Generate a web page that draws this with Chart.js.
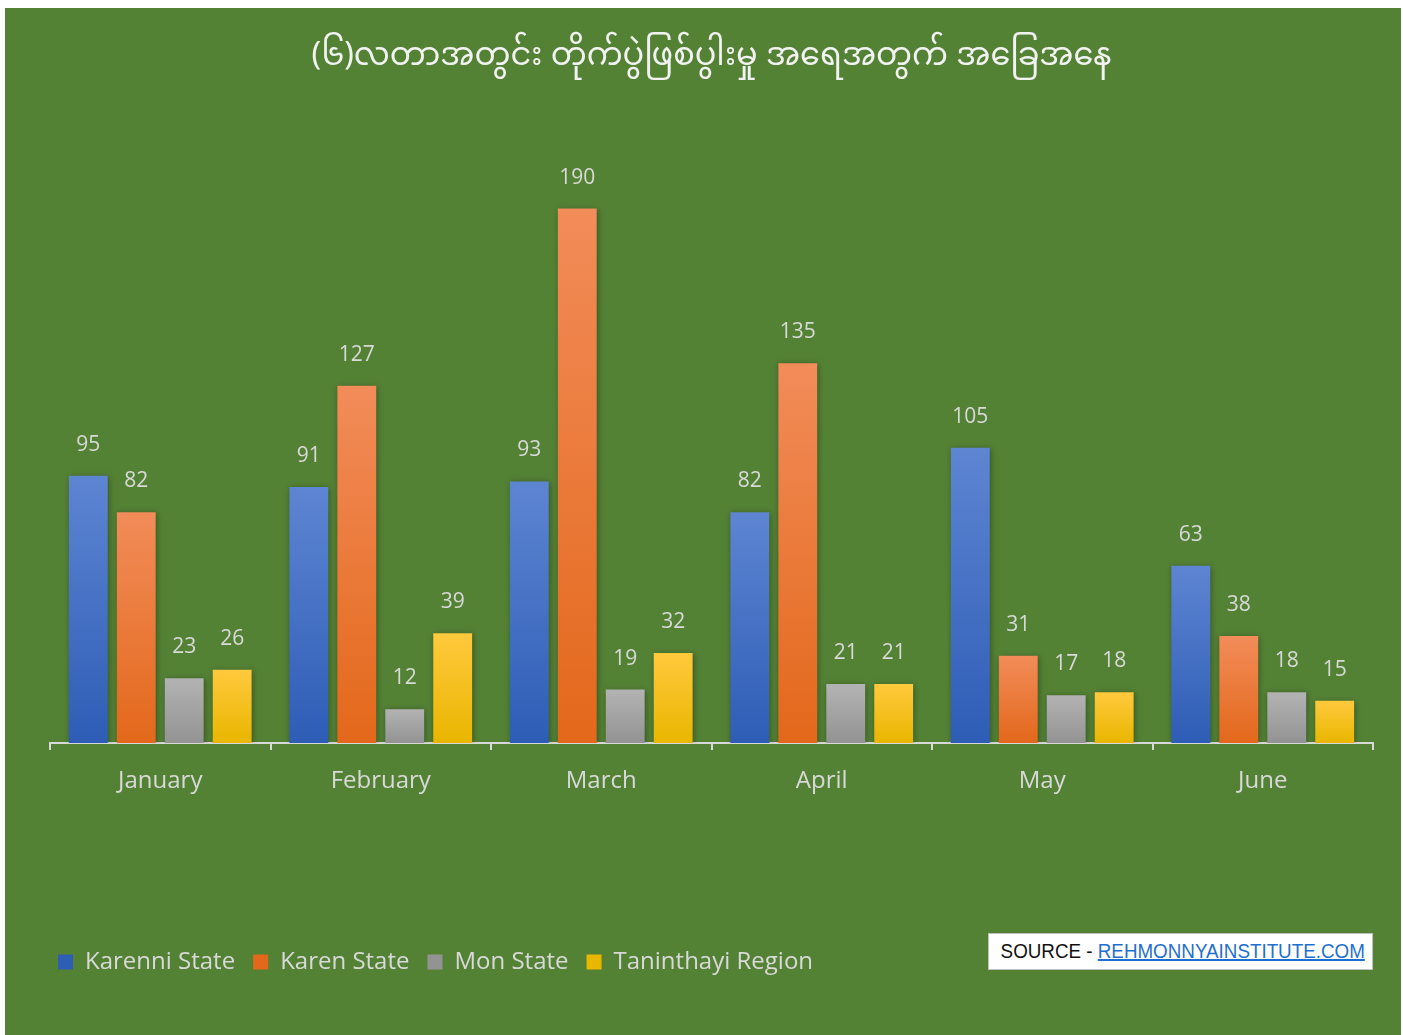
<!DOCTYPE html>
<html>
<head>
<meta charset="utf-8">
<script src="https://cdn.jsdelivr.net/npm/chart.js@4.4.0/dist/chart.umd.min.js"></script>
<style>
  html, body { margin: 0; padding: 0; background: #fff; }
  #frame {
    position: absolute; left: 5px; top: 8px;
    width: 1396px; height: 1027px;
    background: #548235;
  }
  #source {
    position: absolute; left: 983px; top: 925px;
    width: 385px; height: 37px;
    background: #fff; border: 1px solid #bfbfbf; box-sizing: border-box;
    font-family: "Liberation Sans", sans-serif;
    font-size: 20px; line-height: 35px; color: #111;
    white-space: nowrap; overflow: hidden; text-align: center;
  }
  #source .inner { display: inline-block; transform: scaleX(0.94); transform-origin: center; }
  #source .link { color: #1f6fd1; text-decoration: underline; }
</style>
</head>
<body>
<div id="frame">
  <canvas id="chart" width="1396" height="1027"></canvas>
  <div id="source"><span class="inner">SOURCE - <span class="link">REHMONNYAINSTITUTE.COM</span></span></div>
</div>
<script>
const months = ["January", "February", "March", "April", "May", "June"]
const karenni = [95, 91, 93, 82, 105, 63]
const karen = [82, 127, 190, 135, 31, 38]
const mon = [23, 12, 19, 21, 17, 18]
const tanintharyi = [26, 39, 32, 21, 18, 15]
const seriesNames = ["Karenni State", "Karen State", "Mon State", "Taninthayi Region"]

const textColor = "#d9d9d9"
const font = "'Open Sans', Lato, sans-serif"

// top / bottom colour of each bar's gradient
const palette = [
  ["#5d85d2", "#2e5db6"],
  ["#f28c59", "#e3681b"],
  ["#b3b3b3", "#939393"],
  ["#ffc93d", "#e9b600"],
]

function barGradient(i) {
  return (context) => {
    const chart = context.chart
    if (!chart.chartArea || context.raw == null) return palette[i][1]
    const y = chart.scales.y
    const top = y.getPixelForValue(context.raw)
    const bottom = y.getPixelForValue(0)
    const g = chart.ctx.createLinearGradient(0, top, 0, bottom)
    g.addColorStop(0, palette[i][0])
    g.addColorStop(1, palette[i][1])
    return g
  }
}

const barShadow = {
  id: "barShadow",
  beforeDatasetsDraw(chart) {
    const ctx = chart.ctx
    ctx.save()
    ctx.shadowColor = "rgba(0,0,0,0.35)"
    ctx.shadowBlur = 6
    ctx.shadowOffsetX = 1
    ctx.shadowOffsetY = 1
  },
  afterDatasetsDraw(chart) {
    chart.ctx.restore()
  },
}

const valueLabels = {
  id: "valueLabels",
  afterDatasetsDraw(chart) {
    const ctx = chart.ctx
    ctx.save()
    ctx.fillStyle = textColor
    ctx.font = "21px " + font
    ctx.textAlign = "center"
    ctx.textBaseline = "middle"
    chart.data.datasets.forEach((ds, i) => {
      chart.getDatasetMeta(i).data.forEach((bar, j) => {
        ctx.fillText(String(ds.data[j]), bar.x, bar.y - 31)
      })
    })
    ctx.restore()
  },
}

// legend sits a little further left than the plot area
const legendShift = {
  id: "legendShift",
  beforeDraw(chart) {
    if (chart.legend) chart.legend.left = 35
  },
}

const seriesData = [karenni, karen, mon, tanintharyi]

new Chart(document.getElementById("chart"), {
  type: "bar",
  data: {
    labels: months,
    datasets: seriesData.map((d, i) => ({
      label: seriesNames[i],
      data: d,
      backgroundColor: barGradient(i),
      borderWidth: 0,
      categoryPercentage: 0.87,
      barPercentage: 0.81,
    })),
  },
  options: {
    responsive: false,
    animation: false,
    layout: { padding: { left: 45, right: 28, top: 0, bottom: 51 } },
    plugins: {
      title: {
        display: true,
        text: "(၆)လတာအတွင်း တိုက်ပွဲဖြစ်ပွါးမှု အရေအတွက် အခြေအနေ",
        color: "#f2f2f2",
        font: { family: "'Noto Sans Myanmar', 'Noto Sans', sans-serif", size: 32, weight: "normal" },
        padding: { top: 34, bottom: 100 },
      },
      legend: {
        position: "bottom",
        align: "start",
        labels: {
          color: textColor,
          font: { family: font, size: 24 },
          boxWidth: 15,
          boxHeight: 15,
          padding: 18,
          generateLabels: (chart) =>
            chart.data.datasets.map((ds, i) => ({
              text: ds.label,
              fillStyle: palette[i][1],
              strokeStyle: palette[i][1],
              lineWidth: 0,
              fontColor: textColor,
              datasetIndex: i,
            })),
        },
      },
      tooltip: { enabled: false },
    },
    scales: {
      x: {
        grid: {
          display: true,
          drawOnChartArea: false,
          drawTicks: true,
          tickLength: 7,
          color: textColor,
          lineWidth: 2,
        },
        border: { display: true, color: textColor, width: 2 },
        ticks: {
          color: textColor,
          font: { family: font, size: 24 },
          padding: 17,
        },
        afterFit: (scale) => { scale.height = 189 },
      },
      y: {
        display: false,
        min: 0,
        max: 200,
      },
    },
  },
  plugins: [barShadow, valueLabels, legendShift],
})
</script>
</body>
</html>
